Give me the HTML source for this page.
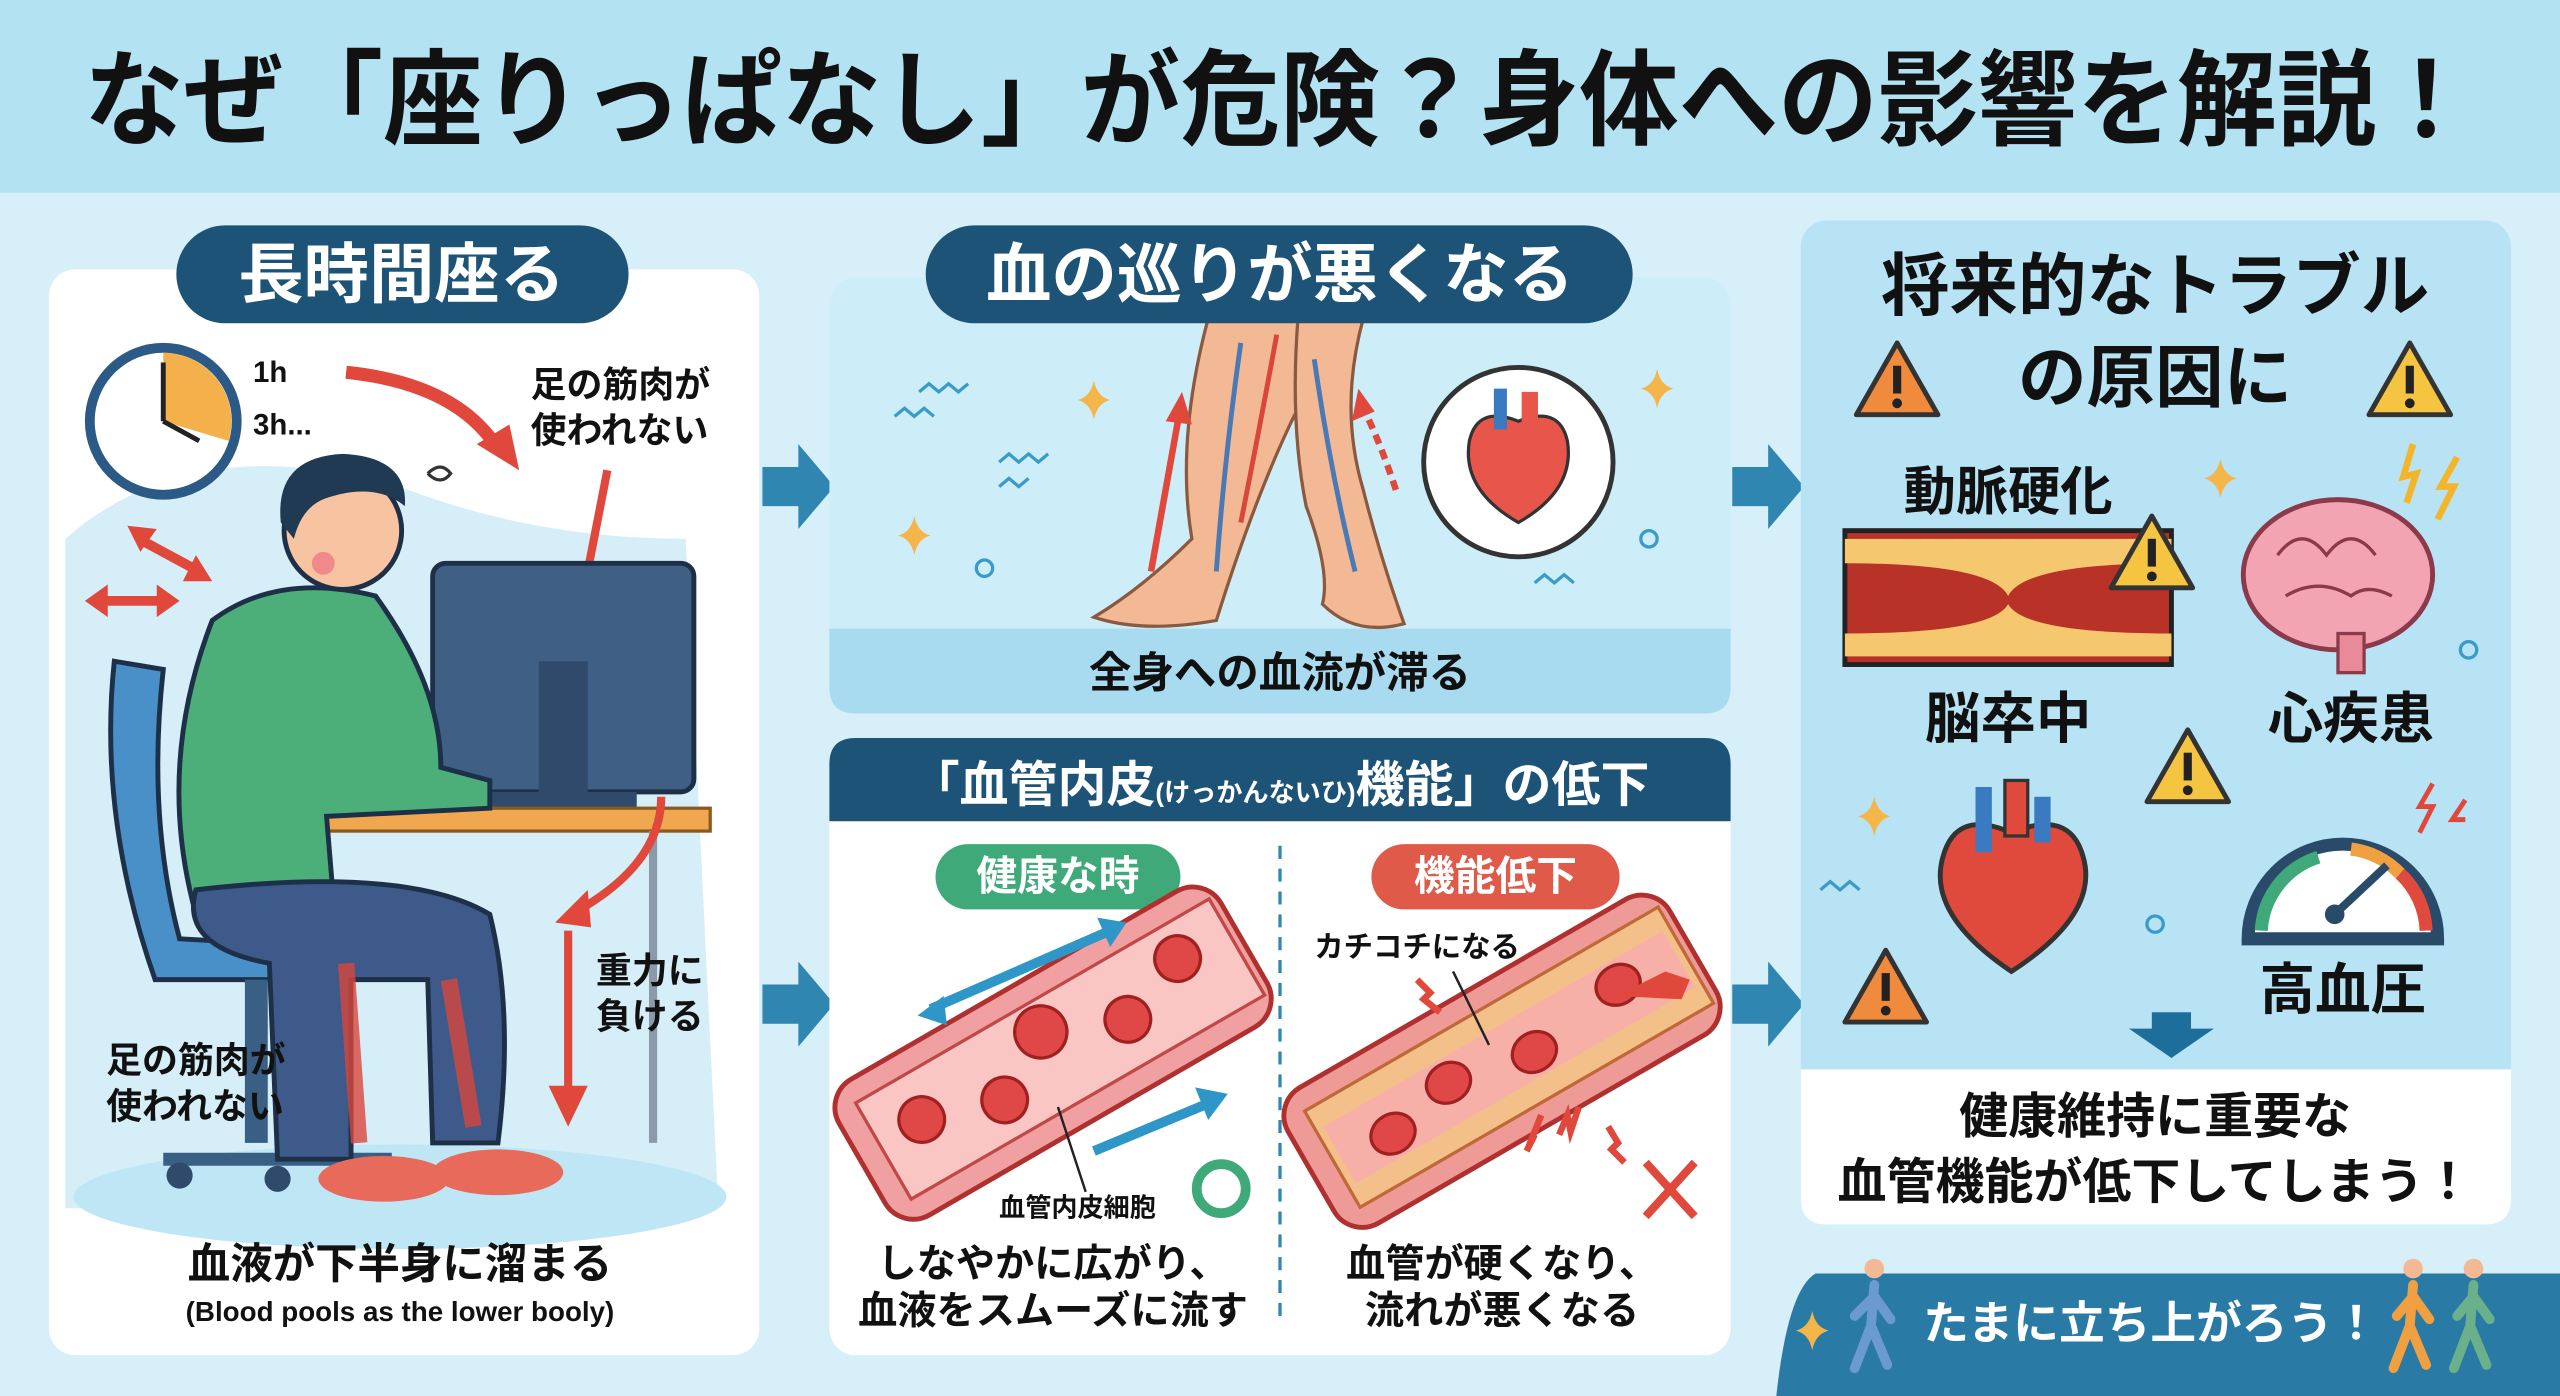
<!DOCTYPE html>
<html><head><meta charset="utf-8"><style>
html,body{margin:0;padding:0;width:2560px;height:1396px;overflow:hidden;background:#d6eff8}
svg{display:block}
text{font-family:"Liberation Sans","Noto Sans CJK JP",sans-serif;font-weight:bold}
</style></head><body>
<svg width="2560" height="1396" viewBox="0 0 1568 855" xmlns="http://www.w3.org/2000/svg">
<defs>
<g id="warn"><path d="M0,-26 L25,18 L-25,18 Z" fill="#f5c542" stroke="#333" stroke-width="3" stroke-linejoin="round"/><rect x="-2.5" y="-12" width="5" height="17" fill="#222"/><circle cx="0" cy="11" r="3" fill="#222"/></g>
<g id="warnr"><path d="M0,-26 L25,18 L-25,18 Z" fill="#f08a3c" stroke="#333" stroke-width="3" stroke-linejoin="round"/><rect x="-2.5" y="-12" width="5" height="17" fill="#222"/><circle cx="0" cy="11" r="3" fill="#222"/></g>
<g id="spark"><path d="M0,-12 Q2,-2 10,0 Q2,2 0,12 Q-2,2 -10,0 Q-2,-2 0,-12Z" fill="#f4b54a"/></g>
<g id="chev"><polygon points="-22,-12 0,-12 0,-26 22,0 0,26 0,12 -22,12" fill="#2f86b0"/></g>
</defs>
<rect width="1568" height="855" fill="#d6eff8"/>
<rect width="1568" height="118" fill="#b3e2f2"/>
<text x="784" y="84" text-anchor="middle" font-size="64" fill="#111" textLength="1465" lengthAdjust="spacingAndGlyphs">なぜ「座りっぱなし」が危険？身体への影響を解説！</text>

<!-- Panel 1 -->
<rect x="30" y="165" width="435" height="665" rx="16" fill="#ffffff"/>
<path d="M40,330 Q120,260 250,300 Q330,330 420,330 L440,740 L40,740 Z" fill="#cbeaf6" opacity="0.8"/>
<ellipse cx="245" cy="733" rx="200" ry="32" fill="#bfe6f5"/>
<rect x="108" y="138" width="277" height="60" rx="30" fill="#1d5377"/>
<text x="246" y="182" text-anchor="middle" font-size="40" fill="#fff">長時間座る</text>
<circle cx="100" cy="258" r="45" fill="#fff" stroke="#2a5a85" stroke-width="6"/>
<path d="M100,258 L100,216 A42,42 0 0 1 140,270 Z" fill="#f4b04a"/>
<line x1="100" y1="258" x2="100" y2="222" stroke="#222" stroke-width="3"/><line x1="100" y1="258" x2="122" y2="270" stroke="#222" stroke-width="3"/>
<text x="155" y="234" font-size="18" fill="#111">1h</text>
<text x="155" y="266" font-size="18" fill="#111">3h...</text>
<text x="325" y="243" font-size="22" fill="#111">足の筋肉が</text>
<text x="325" y="271" font-size="22" fill="#111">使われない</text>
<path d="M212,228 Q280,235 305,275" fill="none" stroke="#e0483c" stroke-width="8"/>
<polygon points="292,272 318,288 312,260" fill="#e0483c"/>
<line x1="372" y1="288" x2="356" y2="370" stroke="#e0483c" stroke-width="5"/>
<polygon points="344,366 366,370 352,390" fill="#e0483c"/>
<!-- red double arrows -->
<g stroke="#e0483c" stroke-width="6" fill="#e0483c">
<line x1="85" y1="330" x2="122" y2="350"/><polygon points="78,322 96,324 86,338" stroke="none"/><polygon points="130,356 112,356 120,340" stroke="none"/>
<line x1="60" y1="368" x2="102" y2="368"/><polygon points="52,368 66,358 66,378" stroke="none"/><polygon points="110,368 96,358 96,378" stroke="none"/>
</g>
<!-- monitor -->
<rect x="265" y="345" width="160" height="140" rx="8" fill="#3f5f85" stroke="#1e3048" stroke-width="3"/>
<rect x="330" y="405" width="30" height="90" fill="#2f4a6a"/>
<rect x="300" y="485" width="90" height="12" fill="#2f4a6a"/>
<!-- chair -->
<path d="M70,405 Q60,500 95,600 L200,600 L200,580 L110,575 Q90,500 100,410 Z" fill="#4a90c8" stroke="#1e3048" stroke-width="3"/>
<rect x="150" y="600" width="14" height="100" fill="#3a5f85"/>
<path d="M100,710 L240,710" stroke="#3a5f85" stroke-width="8"/>
<circle cx="110" cy="720" r="8" fill="#2f4a6a"/><circle cx="170" cy="722" r="8" fill="#2f4a6a"/><circle cx="230" cy="720" r="8" fill="#2f4a6a"/>
<!-- desk -->
<rect x="150" y="495" width="285" height="14" fill="#f0a850" stroke="#8a5a20" stroke-width="2"/>
<line x1="400" y1="509" x2="400" y2="700" stroke="#8a9aaa" stroke-width="5"/>
<!-- body -->
<path d="M130,380 Q170,350 230,365 Q270,420 270,470 L300,478 L300,495 L200,500 L205,560 L120,560 Q95,470 130,380 Z" fill="#4caf7a" stroke="#1e3048" stroke-width="3"/>
<path d="M120,545 Q250,530 300,560 Q315,620 305,700 L265,700 L262,600 L215,600 L215,710 L170,710 L165,590 Q110,580 120,545Z" fill="#3d5a8a" stroke="#1e3048" stroke-width="3"/>
<path d="M212,590 L220,700 M275,600 L290,690" stroke="#d9473c" stroke-width="10" opacity="0.8"/>
<ellipse cx="235" cy="722" rx="40" ry="14" fill="#e76a5a"/><ellipse cx="305" cy="718" rx="40" ry="14" fill="#e76a5a"/>
<circle cx="210" cy="325" r="36" fill="#f7c3a0" stroke="#1e3048" stroke-width="3"/>
<path d="M172,320 Q168,280 210,278 Q250,280 248,310 Q230,295 200,305 Q185,310 180,330 Z" fill="#1f3a52"/>
<circle cx="198" cy="345" r="7" fill="#f08a8a"/>
<path d="M262,290 q8,-8 14,0 q-6,8 -14,0" fill="none" stroke="#333" stroke-width="2"/>
<text x="245" y="783" text-anchor="middle" font-size="26" fill="#111">血液が下半身に溜まる</text>
<text x="245" y="809" text-anchor="middle" font-size="17" fill="#111">(Blood pools as the lower booly)</text>
<text x="365" y="602" font-size="22" fill="#111">重力に</text>
<text x="365" y="630" font-size="22" fill="#111">負ける</text>
<path d="M405,488 Q405,530 350,560" fill="none" stroke="#e0483c" stroke-width="5"/>
<polygon points="340,565 360,545 362,568" fill="#e0483c"/>
<line x1="348" y1="570" x2="348" y2="670" stroke="#e0483c" stroke-width="5"/>
<polygon points="336,665 360,665 348,690" fill="#e0483c"/>
<text x="65" y="657" font-size="22" fill="#111">足の筋肉が</text>
<text x="65" y="685" font-size="22" fill="#111">使われない</text>

<!-- chevrons -->
<use href="#chev" x="489" y="298"/><use href="#chev" x="489" y="615"/>
<use href="#chev" x="1083" y="298"/><use href="#chev" x="1083" y="615"/>

<!-- Panel 2 top -->
<rect x="508" y="170" width="552" height="267" rx="16" fill="#cdeef8"/>
<path d="M508,385 L1060,385 L1060,421 Q1060,437 1044,437 L524,437 Q508,437 508,421 Z" fill="#a8dbef"/>
<text x="784" y="421" text-anchor="middle" font-size="26" fill="#111">全身への血流が滞る</text>
<path d="M740,195 Q720,270 730,330 Q700,360 670,378 Q700,388 745,380 Q770,300 795,250 L800,195 Z" fill="#f3b994" stroke="#8a5a40" stroke-width="2"/>
<path d="M795,195 Q790,260 800,310 Q815,350 810,370 Q830,390 860,382 Q845,340 835,300 Q820,250 835,195 Z" fill="#f3b994" stroke="#8a5a40" stroke-width="2"/>
<path d="M760,210 Q750,280 745,350 M805,220 Q815,290 830,350" stroke="#4a7ab5" stroke-width="3" fill="none"/>
<path d="M782,205 Q770,270 760,320" stroke="#d9473c" stroke-width="3" fill="none"/>
<line x1="705" y1="350" x2="722" y2="255" stroke="#e0483c" stroke-width="4"/><polygon points="714,258 730,260 724,240" fill="#e0483c"/>
<path d="M855,300 Q845,270 835,250" stroke="#e0483c" stroke-width="4" fill="none" stroke-dasharray="6 4"/><polygon points="828,258 842,252 832,238" fill="#e0483c"/>
<circle cx="930" cy="283" r="58" fill="#fff" stroke="#333" stroke-width="3"/>
<path d="M930,320 Q895,300 900,270 Q905,248 930,258 Q955,248 960,270 Q965,300 930,320Z" fill="#e8554a" stroke="#333" stroke-width="2"/>
<rect x="915" y="238" width="8" height="25" fill="#3a7ac0"/><rect x="932" y="240" width="10" height="20" fill="#e8554a"/>
<use href="#spark" x="670" y="245"/><use href="#spark" x="560" y="328"/><use href="#spark" x="1015" y="238"/>
<g stroke="#3a9ac8" stroke-width="2" fill="none">
<path d="M563,240 l6,-5 l6,5 l6,-5 l6,5 l6,-5"/><path d="M548,255 l6,-5 l6,5 l6,-5 l6,5"/>
<path d="M612,283 l6,-5 l6,5 l6,-5 l6,5 l6,-5"/><path d="M612,298 l6,-5 l6,5 l6,-5"/>
<path d="M940,357 l6,-5 l6,5 l6,-5 l6,5"/>
</g>
<circle cx="603" cy="348" r="5" fill="none" stroke="#3a9ac8" stroke-width="2"/><circle cx="1010" cy="330" r="5" fill="none" stroke="#3a9ac8" stroke-width="2"/>
<rect x="567" y="138" width="433" height="60" rx="30" fill="#1d5377"/>
<text x="784" y="182" text-anchor="middle" font-size="40" fill="#fff">血の巡りが悪くなる</text>

<!-- Panel 2 bottom -->
<rect x="508" y="452" width="552" height="378" rx="16" fill="#ffffff"/>
<path d="M508,503 L508,468 Q508,452 524,452 L1044,452 Q1060,452 1060,468 L1060,503 Z" fill="#1d5377"/>
<text x="784" y="491" text-anchor="middle" font-size="30" fill="#fff">「血管内皮<tspan font-size="16">(けっかんないひ)</tspan>機能」の低下</text>
<rect x="573" y="517" width="150" height="40" rx="20" fill="#3fa97a"/>
<text x="648" y="545" text-anchor="middle" font-size="25" fill="#fff">健康な時</text>
<rect x="840" y="517" width="152" height="40" rx="20" fill="#e05a4a"/>
<text x="916" y="545" text-anchor="middle" font-size="25" fill="#fff">機能低下</text>
<line x1="784" y1="518" x2="784" y2="808" stroke="#2f86b0" stroke-width="2" stroke-dasharray="8 6"/>
<g transform="translate(645,645) rotate(-30)">
<rect x="-135" y="-48" width="270" height="96" rx="20" fill="#f0a0a0" stroke="#b03030" stroke-width="3"/>
<rect x="-120" y="-34" width="250" height="68" fill="#f9c6c4" stroke="#c04848" stroke-width="2"/>
<circle cx="-90" cy="-5" r="14" fill="#e04848" stroke="#a02020" stroke-width="2"/><circle cx="-40" cy="10" r="14" fill="#e04848" stroke="#a02020" stroke-width="2"/>
<circle cx="0" cy="-15" r="16" fill="#e04848" stroke="#a02020" stroke-width="2"/><circle cx="50" cy="5" r="14" fill="#e04848" stroke="#a02020" stroke-width="2"/><circle cx="95" cy="-12" r="14" fill="#e04848" stroke="#a02020" stroke-width="2"/>
</g>
<g stroke="#2f96c8" stroke-width="6" fill="#2f96c8">
<line x1="570" y1="618" x2="680" y2="570"/><polygon points="690,565 672,562 680,580" stroke="none"/><polygon points="562,622 578,610 580,628" stroke="none"/>
<line x1="670" y1="705" x2="742" y2="675"/><polygon points="752,670 732,666 740,686" stroke="none"/>
</g>
<circle cx="748" cy="728" r="15" fill="none" stroke="#3fa97a" stroke-width="6"/>
<line x1="648" y1="678" x2="665" y2="730" stroke="#222" stroke-width="1.5"/>
<text x="612" y="745" font-size="16" fill="#111">血管内皮細胞</text>
<g transform="translate(920,650) rotate(-30)">
<rect x="-135" y="-48" width="270" height="96" rx="20" fill="#ee9a96" stroke="#b03030" stroke-width="3"/>
<rect x="-120" y="-34" width="250" height="68" fill="#f4c08a" stroke="#c06838" stroke-width="2"/>
<rect x="-115" y="-20" width="240" height="40" fill="#f6b0a8"/>
<ellipse cx="-80" cy="5" rx="14" ry="12" fill="#e04848" stroke="#a02020" stroke-width="2"/><ellipse cx="-35" cy="-5" rx="14" ry="12" fill="#e04848" stroke="#a02020" stroke-width="2"/>
<ellipse cx="20" cy="5" rx="14" ry="12" fill="#e04848" stroke="#a02020" stroke-width="2"/><ellipse cx="85" cy="-5" rx="14" ry="12" fill="#e04848" stroke="#a02020" stroke-width="2"/>
</g>
<text x="805" y="586" font-size="18" fill="#111">カチコチになる</text>
<line x1="890" y1="595" x2="912" y2="640" stroke="#222" stroke-width="1.5"/>
<g stroke="#e0483c" stroke-width="4" fill="none">
<path d="M868,600 l8,8 l-4,4 l10,8"/><path d="M935,705 l5,-10 l-4,8 l8,-20"/><path d="M955,695 l5,-12 l2,10 l5,-15"/><path d="M985,690 l6,10 l-4,4 l8,8"/>
<line x1="1008" y1="712" x2="1038" y2="745" stroke-width="5"/><line x1="1038" y1="712" x2="1008" y2="745" stroke-width="5"/>
</g>
<polygon points="990,610 1020,595 1035,600 1030,612" fill="#e0483c"/>
<text x="645" y="782" text-anchor="middle" font-size="24" fill="#111">しなやかに広がり、</text>
<text x="645" y="811" text-anchor="middle" font-size="24" fill="#111">血液をスムーズに流す</text>
<text x="920" y="782" text-anchor="middle" font-size="24" fill="#111">血管が硬くなり、</text>
<text x="920" y="811" text-anchor="middle" font-size="24" fill="#111">流れが悪くなる</text>

<!-- Panel 3 -->
<rect x="1103" y="135" width="435" height="615" rx="16" fill="#b7e3f4"/>
<path d="M1103,655 L1538,655 L1538,734 Q1538,750 1522,750 L1119,750 Q1103,750 1103,734 Z" fill="#ffffff"/>
<text x="1320" y="190" text-anchor="middle" font-size="42" fill="#111">将来的なトラブル</text>
<text x="1320" y="246" text-anchor="middle" font-size="42" fill="#111">の原因に</text>
<use href="#warnr" x="1162" y="236"/><use href="#warn" x="1476" y="236"/>
<text x="1230" y="312" text-anchor="middle" font-size="32" fill="#111">動脈硬化</text>
<rect x="1130" y="325" width="200" height="82" fill="#b83228" stroke="#222" stroke-width="3"/>
<path d="M1130,330 L1330,330 L1330,345 Q1240,345 1230,365 Q1220,345 1130,345Z M1130,402 L1330,402 L1330,388 Q1240,388 1230,370 Q1220,388 1130,388Z" fill="#f5c870"/>
<use href="#warn" x="1318" y="342"/>
<use href="#spark" x="1360" y="293"/>
<path d="M1478,272 l-6,20 l8,-2 l-6,18 M1505,280 l-10,18 l8,0 l-10,20" stroke="#f5b52a" stroke-width="4" fill="none"/>
<ellipse cx="1432" cy="352" rx="58" ry="46" fill="#f2a4b2" stroke="#8a3a4a" stroke-width="3"/>
<path d="M1395,340 q15,-20 30,0 q15,-20 30,0 M1400,365 q20,-12 40,0 q10,-8 25,0" stroke="#8a3a4a" stroke-width="2" fill="none"/>
<rect x="1432" y="388" width="16" height="24" fill="#e88a98" stroke="#8a3a4a" stroke-width="2"/>
<circle cx="1512" cy="398" r="5" fill="none" stroke="#3a9ac8" stroke-width="2"/>
<text x="1230" y="452" text-anchor="middle" font-size="34" fill="#111">脳卒中</text>
<text x="1440" y="452" text-anchor="middle" font-size="34" fill="#111">心疾患</text>
<use href="#warn" x="1340" y="473"/>
<use href="#spark" x="1148" y="500"/>
<path d="M1115,545 l6,-5 l6,5 l6,-5 l6,5" stroke="#3a9ac8" stroke-width="2" fill="none"/>
<path d="M1232,595 Q1180,560 1190,525 Q1198,495 1232,510 Q1268,495 1276,525 Q1286,560 1232,595Z" fill="#e04a3c" stroke="#333" stroke-width="3"/>
<rect x="1210" y="482" width="10" height="40" fill="#3a7ac0"/><rect x="1228" y="478" width="14" height="34" fill="#e04a3c" stroke="#333" stroke-width="2"/><rect x="1246" y="488" width="10" height="28" fill="#3a7ac0"/>
<circle cx="1320" cy="566" r="5" fill="none" stroke="#3a9ac8" stroke-width="2"/>
<path d="M1377,575 A58,58 0 0 1 1493,575 Z" fill="#fff" stroke="#2a4a6a" stroke-width="8"/>
<path d="M1385,570 A50,50 0 0 1 1420,525" stroke="#3fa97a" stroke-width="8" fill="none"/>
<path d="M1440,520 A50,50 0 0 1 1470,535" stroke="#f0a040" stroke-width="8" fill="none"/>
<path d="M1470,535 A50,50 0 0 1 1486,570" stroke="#e04a3c" stroke-width="8" fill="none"/>
<line x1="1430" y1="560" x2="1462" y2="530" stroke="#2a4a6a" stroke-width="5"/><circle cx="1430" cy="560" r="6" fill="#2a4a6a"/>
<path d="M1490,480 l-8,14 l8,0 l-8,16 M1510,490 l-8,12 l8,0" stroke="#e0483c" stroke-width="3" fill="none"/>
<use href="#warnr" x="1155" y="608"/>
<text x="1435" y="618" text-anchor="middle" font-size="34" fill="#111">高血圧</text>
<polygon points="1318,620 1342,620 1342,630 1356,630 1330,648 1304,630 1318,630" fill="#1d6e9a"/>
<text x="1320" y="694" text-anchor="middle" font-size="30" fill="#111">健康維持に重要な</text>
<text x="1320" y="734" text-anchor="middle" font-size="30" fill="#111">血管機能が低下してしまう！</text>

<!-- banner -->
<path d="M1112,780 L1568,780 L1568,855 L1088,855 Q1095,790 1112,780Z" fill="#2a7aa6"/>
<text x="1178" y="820" font-size="28" fill="#fff">たまに立ち上がろう！</text>
<use href="#spark" x="1110" y="815"/>
<g stroke-width="6" stroke-linecap="round" fill="none">
<g stroke="#6a9ad0"><circle cx="1148" cy="777" r="6" fill="#f3b994" stroke="none"/><path d="M1148,787 L1146,812 M1146,812 L1136,838 M1146,812 L1156,836 M1148,794 L1136,806 M1148,794 L1158,808"/></g>
<g stroke="#f0a040"><circle cx="1478" cy="777" r="6" fill="#f3b994" stroke="none"/><path d="M1478,787 L1476,812 M1476,812 L1466,838 M1476,812 L1486,836 M1478,794 L1468,806 M1478,794 L1488,808"/></g>
<g stroke="#6ab08a"><circle cx="1515" cy="777" r="6" fill="#f3b994" stroke="none"/><path d="M1515,787 L1513,812 M1513,812 L1503,838 M1513,812 L1523,836 M1515,794 L1505,806 M1515,794 L1525,808"/></g>
</g>
</svg>
</body></html>
